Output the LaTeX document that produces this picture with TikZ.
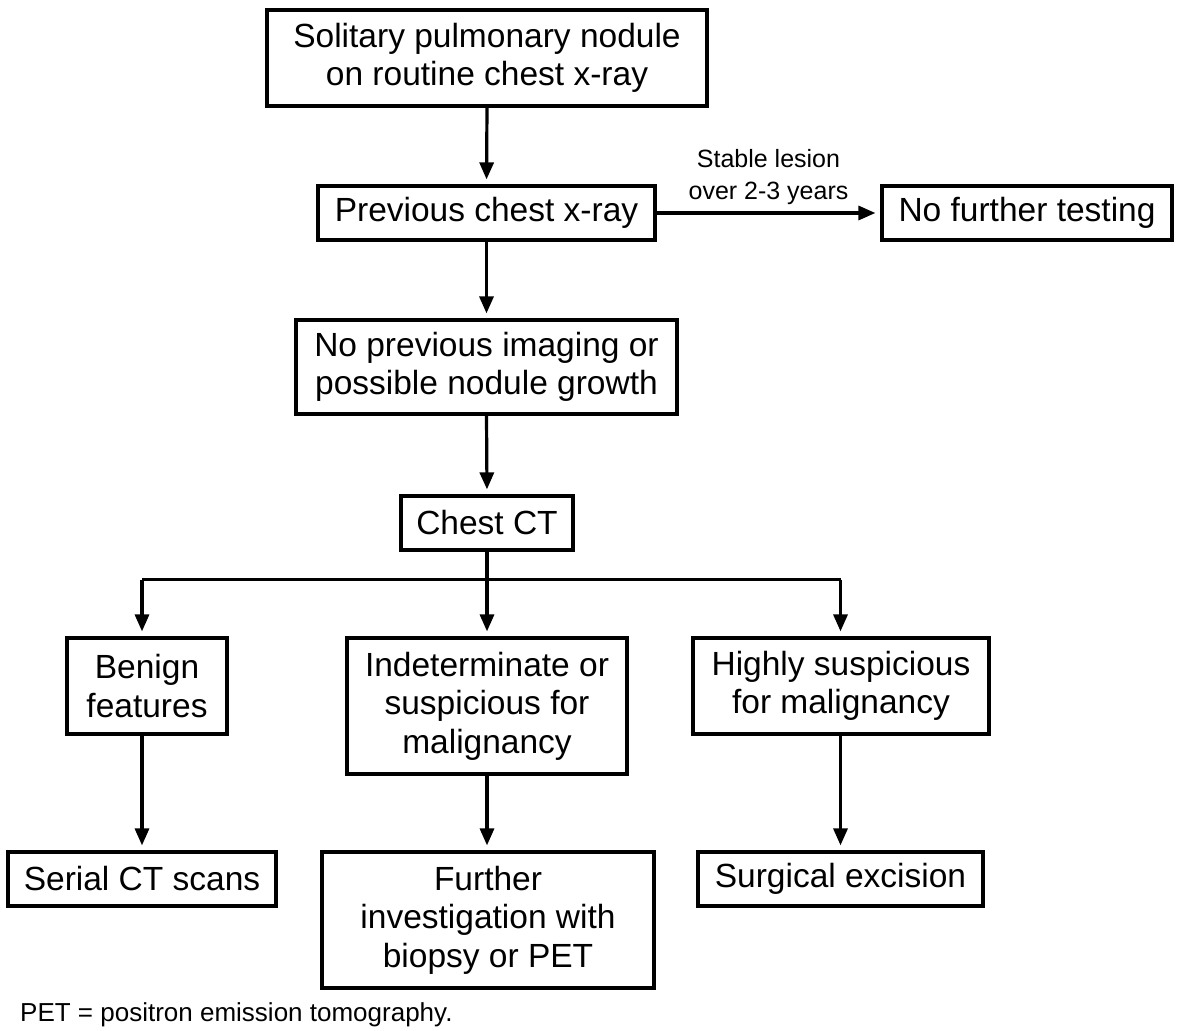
\documentclass[tikz,border=0pt]{standalone}
\usepackage{fontspec}
\setmainfont{Liberation Sans}
\usetikzlibrary{arrows.meta,calc}
\begin{document}
\begin{tikzpicture}[x=1pt,y=-1pt,
  box/.style={draw=black,line width=3.2pt,align=center,inner sep=0pt,
    font=\fontsize{33.5}{38.5}\selectfont},
  arr/.style={line width=3.2pt,-{Triangle[length=17pt,width=14pt]},shorten >=5pt},
  ln/.style={line width=3.2pt},
  lbl/.style={font=\fontsize{25}{32}\selectfont,align=center,inner sep=0pt}]
\useasboundingbox (0,0) rectangle (1182,1030);
\node[box,minimum width=440pt,minimum height=96pt] (spn) at (487,58) {Solitary pulmonary nodule\\on routine chest x-ray};
\node[box,minimum width=337pt,minimum height=54pt] (prev) at (486.5,213) {Previous chest x-ray};
\node[box,minimum width=290pt,minimum height=54pt] (nft) at (1027,213) {No further testing};
\node[box,minimum width=381pt,minimum height=94pt] (npi) at (486.5,367) {No previous imaging or\\possible nodule growth};
\node[box,minimum width=172pt,minimum height=54pt] (ct) at (487,523) {Chest CT};
\node[box,minimum width=160pt,minimum height=96pt] (ben) at (147,686) {Benign\\features};
\node[box,minimum width=280pt,minimum height=136pt] (ind) at (487,706) {Indeterminate or\\suspicious for\\malignancy};
\node[box,minimum width=296pt,minimum height=96pt] (hs) at (841,686) {Highly suspicious\\for malignancy};
\node[box,minimum width=268pt,minimum height=54pt] (ser) at (142,879) {Serial CT scans};
\node[box,minimum width=332pt,minimum height=136pt] (fur) at (488,920) {Further\\investigation with\\biopsy or PET};
\node[box,minimum width=285pt,minimum height=54pt] (surg) at (840.5,879) {Surgical excision};
\node[lbl,font=\fontsize{26}{32}\selectfont,anchor=west] (foot) at (20,1015) {PET = positron emission tomography.};

\draw[arr] (spn.south) -- (prev.north);
\draw[arr] (prev.east) -- (nft.west) node[lbl,midway,above=7pt] (stab) {Stable lesion\\over 2-3 years};
\draw[arr] (prev.south) -- (npi.north);
\draw[arr] (npi.south) -- (ct.north);
\draw[ln] (ct.south) -- ++(0,28) coordinate (br);
\draw[ln] (ser.north |- br) -- (surg.north |- br);
\draw[arr] (ser.north |- br) -- (ser.north |- ben.north);
\draw[arr] (br) -- (ind.north);
\draw[arr] (surg.north |- br) -- (surg.north |- hs.north);
\draw[arr] (ser.north |- ben.south) -- (ser.north);
\draw[arr] (ind.south) -- (ind.south |- fur.north);
\draw[arr] (surg.north |- hs.south) -- (surg.north);
\end{tikzpicture}
\end{document}
